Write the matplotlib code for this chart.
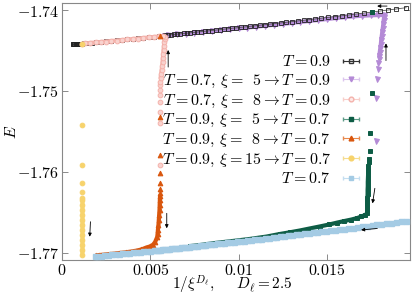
import numpy as np
import matplotlib
matplotlib.use("Agg")
import matplotlib.pyplot as plt
from matplotlib.legend_handler import HandlerErrorbar

plt.rcParams["mathtext.fontset"] = "cm"
plt.rcParams["font.family"] = "serif"
plt.rcParams["font.serif"] = ["DejaVu Serif"]

# equilibrium T = 0.9
T09_x = [0.01948, 0.01892, 0.01847, 0.01802, 0.01757, 0.01712, 0.01666, 0.01627, 0.01587, 0.01548,
         0.01508, 0.01469, 0.01435, 0.01401, 0.01368, 0.01334, 0.01300, 0.01266, 0.01238, 0.01204,
         0.01176, 0.01148, 0.01119, 0.01091, 0.01063, 0.01035, 0.01012, 0.00984, 0.00961, 0.00938,
         0.00915, 0.00893, 0.00871, 0.00849, 0.00828, 0.00807, 0.00786, 0.00766, 0.00746, 0.00726,
         0.00707, 0.00688, 0.00669, 0.00651, 0.00633, 0.00616, 0.00598, 0.00582, 0.00565, 0.00549,
         0.00520, 0.00490, 0.00460, 0.00430, 0.00400, 0.00370, 0.00340, 0.00310, 0.00280, 0.00250,
         0.00220, 0.00195, 0.00170, 0.00150, 0.00135, 0.00122, 0.00112, 0.00104, 0.00097, 0.00091,
         0.00086, 0.00081, 0.00077, 0.00073, 0.00069, 0.00066, 0.00063, 0.00060]
T09_E = [-1.73971, -1.73987, -1.73999, -1.74012, -1.74024, -1.74036, -1.74048, -1.74059, -1.74069, -1.74080,
         -1.74090, -1.74100, -1.74109, -1.74118, -1.74126, -1.74135, -1.74143, -1.74152, -1.74159, -1.74167,
         -1.74174, -1.74181, -1.74188, -1.74195, -1.74202, -1.74209, -1.74214, -1.74221, -1.74226, -1.74232,
         -1.74237, -1.74243, -1.74248, -1.74253, -1.74258, -1.74263, -1.74267, -1.74272, -1.74277, -1.74281,
         -1.74286, -1.74290, -1.74294, -1.74298, -1.74302, -1.74306, -1.74310, -1.74314, -1.74318, -1.74321,
         -1.74328, -1.74334, -1.74341, -1.74347, -1.74354, -1.74360, -1.74367, -1.74373, -1.74379, -1.74386,
         -1.74392, -1.74397, -1.74402, -1.74407, -1.74410, -1.74412, -1.74414, -1.74416, -1.74417, -1.74419,
         -1.74420, -1.74421, -1.74422, -1.74422, -1.74423, -1.74424, -1.74424, -1.74425]

# equilibrium T = 0.7
T07_x = [0.01948, 0.01920, 0.01892, 0.01864, 0.01836, 0.01808, 0.01780, 0.01753, 0.01726, 0.01699,
         0.01672, 0.01646, 0.01620, 0.01594, 0.01568, 0.01543, 0.01518, 0.01493, 0.01468, 0.01444,
         0.01420, 0.01396, 0.01372, 0.01349, 0.01326, 0.01303, 0.01280, 0.01258, 0.01236, 0.01214,
         0.01192, 0.01171, 0.01150, 0.01129, 0.01108, 0.01088, 0.01068, 0.01048, 0.01028, 0.01009,
         0.00990, 0.00971, 0.00952, 0.00934, 0.00916, 0.00898, 0.00880, 0.00863, 0.00846, 0.00829,
         0.00812, 0.00796, 0.00780, 0.00764, 0.00748, 0.00733, 0.00718, 0.00703, 0.00688, 0.00674,
         0.00660, 0.00646, 0.00632, 0.00619, 0.00606, 0.00593, 0.00580, 0.00568, 0.00556, 0.00544,
         0.00532, 0.00520, 0.00500, 0.00480, 0.00460, 0.00440, 0.00420, 0.00400, 0.00380, 0.00360,
         0.00340, 0.00320, 0.00300, 0.00280, 0.00260, 0.00240, 0.00220, 0.00200, 0.00189]
T07_E = [-1.76603, -1.76611, -1.76619, -1.76627, -1.76635, -1.76643, -1.76651, -1.76659, -1.76666, -1.76674,
         -1.76681, -1.76689, -1.76696, -1.76703, -1.76710, -1.76717, -1.76723, -1.76730, -1.76737, -1.76743,
         -1.76750, -1.76756, -1.76762, -1.76768, -1.76774, -1.76780, -1.76786, -1.76792, -1.76798, -1.76803,
         -1.76809, -1.76814, -1.76820, -1.76825, -1.76830, -1.76835, -1.76840, -1.76845, -1.76850, -1.76855,
         -1.76860, -1.76864, -1.76869, -1.76873, -1.76878, -1.76882, -1.76886, -1.76890, -1.76894, -1.76898,
         -1.76902, -1.76906, -1.76910, -1.76914, -1.76918, -1.76921, -1.76925, -1.76928, -1.76932, -1.76935,
         -1.76938, -1.76941, -1.76944, -1.76947, -1.76950, -1.76953, -1.76956, -1.76959, -1.76962, -1.76964,
         -1.76967, -1.76970, -1.76974, -1.76979, -1.76983, -1.76988, -1.76992, -1.76996, -1.77001, -1.77005,
         -1.77009, -1.77014, -1.77018, -1.77022, -1.77026, -1.77031, -1.77035, -1.77039, -1.77041]

# T=0.7, xi=5 -> T=0.9
heat5_x = [0.01777, 0.01779, 0.01783, 0.01787, 0.01790, 0.01792, 0.01796, 0.01799, 0.01802, 0.01805,
           0.01807, 0.01810, 0.01813, 0.01816, 0.01819, 0.01821, 0.01824, 0.01822, 0.01790, 0.01750,
           0.01700, 0.01650, 0.01600, 0.01550, 0.01500, 0.01450, 0.01400, 0.01350, 0.01300, 0.01250,
           0.01200, 0.01150, 0.01100, 0.01050, 0.01000, 0.00950, 0.00900, 0.00850, 0.00800, 0.00750,
           0.00700, 0.00650, 0.00600, 0.00580]
heat5_E = [-1.75625, -1.75091, -1.74857, -1.74733, -1.74659, -1.74609, -1.74569, -1.74519, -1.74470, -1.74420,
           -1.74371, -1.74321, -1.74272, -1.74222, -1.74173, -1.74124, -1.74087, -1.74062, -1.74062, -1.74065,
           -1.74070, -1.74078, -1.74088, -1.74099, -1.74111, -1.74123, -1.74135, -1.74147, -1.74159, -1.74171,
           -1.74182, -1.74194, -1.74205, -1.74216, -1.74227, -1.74238, -1.74249, -1.74260, -1.74270, -1.74281,
           -1.74291, -1.74302, -1.74312, -1.74315]

# T=0.7, xi=8 -> T=0.9
heat8_x = [0.00555, 0.00555, 0.00555, 0.00555, 0.00555, 0.00555, 0.00555, 0.00555, 0.00558, 0.00561,
           0.00564, 0.00567, 0.00569, 0.00571, 0.00573, 0.00575, 0.00577, 0.00579, 0.00581, 0.00583,
           0.00570, 0.00550, 0.00520, 0.00490, 0.00460, 0.00430, 0.00400, 0.00370, 0.00340, 0.00310,
           0.00280, 0.00250, 0.00220, 0.00190, 0.00160, 0.00130, 0.00115]
heat8_E = [-1.75916, -1.75393, -1.75257, -1.75133, -1.75051, -1.74989, -1.74927, -1.74886, -1.74841, -1.74791,
           -1.74742, -1.74692, -1.74643, -1.74593, -1.74544, -1.74494, -1.74445, -1.74396, -1.74358, -1.74334,
           -1.74325, -1.74327, -1.74333, -1.74339, -1.74346, -1.74352, -1.74358, -1.74364, -1.74371, -1.74377,
           -1.74383, -1.74389, -1.74395, -1.74401, -1.74407, -1.74413, -1.74416]

# T=0.9, xi=5 -> T=0.7
cool5_x = [0.01757, 0.01753, 0.01745, 0.01741, 0.01738, 0.01738, 0.01734, 0.01734, 0.01733, 0.01732,
           0.01731, 0.01731, 0.01730, 0.01730, 0.01729, 0.01729, 0.01728, 0.01728, 0.01728, 0.01717,
           0.01694, 0.01672, 0.01638, 0.01599, 0.01559, 0.01513, 0.01458, 0.01401, 0.01345, 0.01289,
           0.01232, 0.01159, 0.01063, 0.00967, 0.00866, 0.00781, 0.00725]
cool5_E = [-1.74025, -1.75030, -1.75524, -1.75743, -1.75842, -1.75879, -1.75928, -1.75977, -1.76027, -1.76077,
           -1.76126, -1.76176, -1.76225, -1.76274, -1.76324, -1.76373, -1.76423, -1.76472, -1.76509, -1.76534,
           -1.76552, -1.76571, -1.76590, -1.76608, -1.76627, -1.76651, -1.76676, -1.76701, -1.76726, -1.76748,
           -1.76769, -1.76800, -1.76830, -1.76855, -1.76880, -1.76905, -1.76918]

# T=0.9, xi=8 -> T=0.7
cool8_x = [0.00555, 0.00555, 0.00555, 0.00555, 0.00555, 0.00555, 0.00555, 0.00555, 0.00554, 0.00553,
           0.00552, 0.00550, 0.00548, 0.00546, 0.00543, 0.00541, 0.00539, 0.00527, 0.00516, 0.00499,
           0.00477, 0.00450, 0.00420, 0.00390, 0.00360, 0.00330, 0.00300, 0.00270, 0.00240, 0.00210,
           0.00195]
cool8_E = [-1.74315, -1.75319, -1.75792, -1.76019, -1.76142, -1.76216, -1.76266, -1.76299, -1.76349, -1.76410,
           -1.76472, -1.76534, -1.76596, -1.76658, -1.76719, -1.76769, -1.76806, -1.76868, -1.76900, -1.76922,
           -1.76936, -1.76960, -1.76975, -1.76986, -1.76995, -1.77002, -1.77010, -1.77016, -1.77023, -1.77029,
           -1.77032]

# T=0.9, xi=15 -> T=0.7
cool15_x = [0.00116, 0.00116, 0.00116, 0.00116, 0.00116, 0.00116, 0.00116, 0.00116, 0.00116, 0.00116,
            0.00116, 0.00116, 0.00116, 0.00116, 0.00116, 0.00116, 0.00116, 0.00115]
cool15_E = [-1.74420, -1.75421, -1.75916, -1.76135, -1.76246, -1.76320, -1.76349, -1.76410, -1.76472, -1.76534,
            -1.76596, -1.76658, -1.76719, -1.76781, -1.76843, -1.76905, -1.76966, -1.77029]

labels = [r"$T=0.9$",
          r"$T=0.7,\,\xi=\enspace5\rightarrow T=0.9$",
          r"$T=0.7,\,\xi=\enspace8\rightarrow T=0.9$",
          r"$T=0.9,\,\xi=\enspace5\rightarrow T=0.7$",
          r"$T=0.9,\,\xi=\enspace8\rightarrow T=0.7$",
          r"$T=0.9,\,\xi=15\rightarrow T=0.7$",
          r"$T=0.7$"]

# arrows (tail -> head), data coords
arrows = [((0.00601, -1.74705), (0.00601, -1.74494)),
          ((0.01834, -1.74625), (0.01834, -1.74412)),
          ((0.01840, -1.73951), (0.01784, -1.73951)),
          ((0.00161, -1.76617), (0.00157, -1.76802)),
          ((0.00593, -1.76513), (0.00593, -1.76698)),
          ((0.01771, -1.76204), (0.01758, -1.76390)),
          ((0.01785, -1.76700), (0.01693, -1.76719))]

xticks = [0, 0.005, 0.01, 0.015]
xticklabels = [r"$0$", r"$0.005$", r"$0.01$", r"$0.015$"]
yticks = [-1.74, -1.75, -1.76, -1.77]
yticklabels = [r"$-1.74$", r"$-1.75$", r"$-1.76$", r"$-1.77$"]

c_purple = "#b48ad6"
c_pink = "#f4b2ab"
c_green = "#0d5c45"
c_orange = "#d9560d"
c_yellow = "#f7d36c"
c_blue = "#a4cbe4"

fs = 11.5

fig = plt.figure(figsize=(4.15, 2.97), dpi=100)
ax = fig.add_axes([62 / 415, 1 - 260 / 297, 348 / 415, 257 / 297])


def transient(x, E, dense, color, marker, ms, z, mfc=None):
    ax.plot(x[dense:], E[dense:], "-", color=color, lw=3.0, solid_capstyle="round",
            solid_joinstyle="round", zorder=z)
    ax.plot(x, E, ls="none", marker=marker, ms=ms, color=color, mec=color,
            mfc=color if mfc is None else mfc, mew=0.7, zorder=z)


ax.plot(T09_x, T09_E, "-", color="#555555", lw=0.6, zorder=3)
ax.plot(T09_x, T09_E, ls="none", marker="s", ms=3.4, mfc="none", mec="#222222", mew=0.6, zorder=3)
transient(heat5_x, heat5_E, 6, c_purple, "v", 3.6, 2)
transient(heat8_x, heat8_E, 8, c_pink, "o", 3.4, 4, mfc="#f9d3cf")
transient(cool5_x, cool5_E, 7, c_green, "s", 3.0, 5)
transient(cool8_x, cool8_E, 7, c_orange, "^", 3.4, 6)
transient(cool15_x, cool15_E, 6, c_yellow, "o", 3.4, 7)
ax.plot(T07_x, T07_E, ls="none", marker="s", ms=3.6, color=c_blue, mec=c_blue, zorder=8)

for (x0, y0), (x1, y1) in arrows:
    ax.annotate("", xy=(x1, y1), xytext=(x0, y0),
                arrowprops=dict(arrowstyle="-|>", color="k", lw=0.6, mutation_scale=5,
                                shrinkA=0, shrinkB=0), zorder=10)

# legend proxies
styles = [("#333333", "s", "none", "#333333"),
          (c_purple, "v", c_purple, "#dcc6ee"),
          (c_pink, "o", "#fde8e6", "#f8cfca"),
          (c_green, "s", c_green, "#5e9c88"),
          (c_orange, "^", c_orange, "#e8894d"),
          (c_yellow, "o", c_yellow, "#f5dc90"),
          (c_blue, "s", c_blue, "#c4def0")]
handles = []
for (mc, mk, mf, ec), lab in zip(styles, labels):
    h = ax.errorbar([np.nan], [np.nan], xerr=[1.0], fmt=mk, ms=3.4, mec=mc, mfc=mf,
                    ecolor=ec, elinewidth=0.8, capsize=1.5, label=lab)
    handles.append(h)

leg = ax.legend(handles=handles, loc="upper right", bbox_to_anchor=(0.878, 0.835),
                frameon=False, markerfirst=False, fontsize=fs, handlelength=1.1,
                handletextpad=0.7, labelspacing=0.1, borderpad=0,
                handler_map={type(handles[0]): HandlerErrorbar(xerr_size=0.5)})

ax.set_xlim(0, 0.0197)
ax.set_ylim(-1.7709, -1.73913)
ax.set_xticks(xticks)
ax.set_xticklabels(xticklabels)
ax.set_yticks(yticks)
ax.set_yticklabels(yticklabels)
ax.tick_params(direction="in", top=True, right=True, length=4, width=0.6,
               labelsize=fs, pad=2.0, color="#777777")
ax.tick_params(axis="x", pad=1.2)
for s in ax.spines.values():
    s.set_color("#888888")
    s.set_linewidth(0.8)

ax.set_xlabel(r"$1/\xi^{D_\ell},\quad\enspace D_\ell=2.5$", fontsize=11)
ax.xaxis.label.set_verticalalignment("bottom")
ax.xaxis.set_label_coords(0.49, -0.141)
ax.set_ylabel(r"$E$", fontsize=fs)
ax.yaxis.set_label_coords(-0.12, 0.5)

fig.savefig("out.png", dpi=100)
